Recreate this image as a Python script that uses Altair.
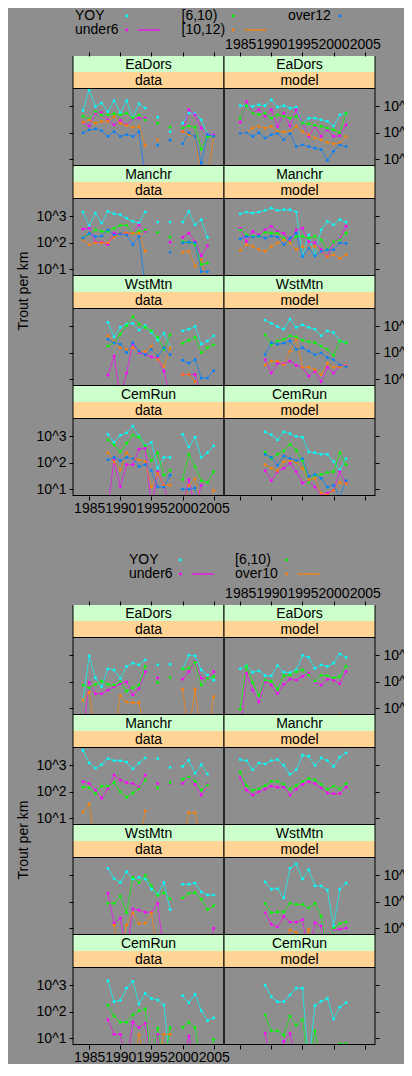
import altair as alt
import pandas as pd

N = None

# ---------------- data ----------------
YEARS_DATA = list(range(1984, 2006))    # observed series
YEARS_MODEL = list(range(1985, 2003))   # model series
YEAR_TICKS = [1985, 1990, 1995, 2000, 2005]
Y_TICKS = [10, 100, 1000]
SITES = ["EaDors", "Manchr", "WstMtn", "CemRun"]
KINDS = ["data", "model"]
Y_TITLE = "Trout per km"

SERIES_1 = ["YOY", "under6", "[6,10)", "[10,12)", "over12"]
COLORS_1 = ["#00ffff", "#ff00ff", "#00ff00", "#ff8000", "#0080ff"]
SERIES_2 = ["YOY", "under6", "[6,10)", "over10"]
COLORS_2 = ["#00ffff", "#ff00ff", "#00ff00", "#ff8000"]

# ---- first figure (5 size classes) ----
C1_EADORS_DATA = {
    "YOY":     [700, 4300, 1000, 1340, 640, 1640, 560, 1640, 360, 1260, 860, N, 390, N, 110, N, 230, 560, 530, 310, 85, 85],
    "under6":  [250, 180, 560, 590, 300, 200, 300, 200, 340, 360, 360, N, N, N, N, N, 110, 750, 480, 150, 85, 85],
    "[6,10)":  [420, 340, 640, 480, 480, 530, 480, 560, 360, 480, 310, N, 230, N, 165, N, 150, 180, 165, 23, 73, 73],
    "[10,12)": [250, 310, 230, 270, 270, 420, 230, 190, 160, 175, 33, N, 54, N, N, N, 110, 85, 73, 2, 2, 73],
    "over12":  [100, 130, 140, 120, 73, 110, 73, 85, 73, 110, 2, N, 34, N, 52, N, 38, 100, 73, 7, 85, 73],
}
C1_EADORS_MODEL = {
    "YOY":     [1060, 1060, 1000, 1160, 1060, 1800, 940, 1060, 860, 940, 230, 360, 360, 310, 270, 180, 480, 560],
    "under6":  [250, 1550, 560, 750, 420, 750, 175, 560, 180, 750, 230, 73, 175, 73, 130, 73, 77, 200],
    "[6,10)":  [360, 1060, 560, 480, 560, 360, 480, 420, 360, 420, 230, 220, 190, 175, 150, 130, 100, 560],
    "[10,12)": [95, 100, 150, 180, 150, 175, 110, 110, 110, 175, 110, 85, 63, 54, 43, 38, 41, 73],
    "over12":  [95, 100, 73, 100, 63, 85, 95, 54, 95, 30, 35, 30, 26, 23, 9, 20, 35, 30],
}
C1_MANCHR_DATA = {
    "YOY":     [1460, 440, 1340, 560, 1550, 1260, 1150, 860, 650, 560, 1460, N, 610, N, 610, N, 610, 1550, 480, 750, 160, N],
    "under6":  [330, 360, 105, 105, 85, 230, 220, 230, 230, 480, 270, N, N, N, 105, N, 160, 230, 110, 32, 77, N],
    "[6,10)":  [150, 220, 310, 270, 270, 360, 460, 460, 230, 270, 310, N, 250, N, 165, N, 110, 105, 85, 15, 17, N],
    "[10,12)": [130, 85, 100, 100, 100, 165, 230, 230, 230, 230, 47, N, N, N, 43, N, 43, 47, 13, 23, 2, N],
    "over12":  [150, 230, 170, 180, 310, 200, 220, 200, 85, 175, 2, N, N, N, 43, N, 100, 105, 100, 8, 8, N],
}
C1_MANCHR_MODEL = {
    "YOY":     [1260, 1460, 1340, 1460, 1700, 2070, 1700, 1790, 1790, 1460, 30, 200, 32, 310, 650, 480, 750, 610],
    "under6":  [360, 110, 270, 200, 310, 420, 270, 230, 110, 310, 360, 110, 100, 55, 30, 110, 140, 420],
    "[6,10)":  [310, 200, 175, 175, 250, 230, 230, 150, 100, 175, 175, 150, 175, 130, 55, 110, 130, 230],
    "[10,12)": [51, 85, 73, 55, 47, 73, 100, 130, 100, 55, 73, 63, 73, 47, 30, 35, 26, 35],
    "over12":  [140, 175, 165, 180, 150, 180, 165, 85, 150, 230, 30, 63, 32, 47, 55, 55, 100, 95],
}
C1_WSTMTN_DATA = {
    "YOY":     [N, N, N, N, 1420, 400, 920, 1230, 1300, 720, 1060, 590, 300, 540, 165, N, 680, 790, 1000, 210, 280, 440],
    "under6":  [N, N, N, N, 14, 75, 2, 17, 220, 100, 85, 70, 65, 20, 2, N, 15, 15, 15, 2, N, N],
    "[6,10)":  [N, N, N, N, 180, 240, 510, 1060, 2350, 1230, 920, 680, 380, 135, 480, N, 230, 300, 380, 100, 155, 200],
    "[10,12)": [N, N, N, N, 440, 265, 155, 135, 155, 110, 110, 180, 55, 30, 155, N, 15, 15, 8, N, N, N],
    "over12":  [N, N, N, N, 325, 240, 210, 100, 240, 115, 85, 135, 75, 155, 85, N, 52, 40, 55, 11, 11, 21],
}
C1_WSTMTN_MODEL = {
    "YOY":     [N, N, N, N, 1750, 1300, 980, 790, 1910, 920, 1160, 920, 790, 440, 680, 590, 280, 240],
    "under6":  [N, N, N, N, 55, 17, 40, 38, 48, 33, 28, 13, 20, 8, 28, 17, 33, 34],
    "[6,10)":  [N, N, N, N, 480, 200, 280, 325, 440, 400, 300, 265, 240, 180, 135, 80, 280, 240],
    "[10,12)": [N, N, N, N, 34, 48, 48, 35, 115, 325, 28, 28, 23, 15, 40, 28, 30, 33],
    "over12":  [N, N, N, N, 85, 240, 210, 230, 280, 135, 155, 115, 85, 100, 65, 55, 35, 30],
}
C1_CEMRUN_DATA = {
    "YOY":     [N, N, N, N, 1200, 600, 1100, 1350, 2480, 1030, 440, 600, 62, 160, 160, N, 1200, 400, 940, 160, 240, 440],
    "under6":  [N, N, N, N, 2, 130, 12, 85, 85, 330, 360, 2, 46, 14, 2, N, 2, 23, 2, 14, N, N],
    "[6,10)":  [N, N, N, N, 740, 480, 260, 550, 1100, 940, 440, 120, 240, 34, 53, N, 23, 210, 72, 21, 18, 46],
    "[10,12)": [N, N, N, N, 240, 110, 53, 240, 145, 130, 110, 12, 39, 14, 14, N, 2, 14, 25, 2, 2, 9],
    "over12":  [N, N, N, N, 130, 160, 120, 160, 145, 72, 85, 50, 12, 12, 34, N, 10, 10, 11, 2, N, N],
}
C1_CEMRUN_MODEL = {
    "YOY":     [N, N, N, N, 1480, 1160, 740, 1480, 1270, 1000, 940, 260, 240, 210, 210, 110, 53, 145],
    "under6":  [N, N, N, N, 50, 21, 46, 62, 97, 46, 17, 21, 12, 6, 7, 9, 46, 16],
    "[6,10)":  [N, N, N, N, 255, 145, 210, 280, 510, 300, 120, 18, 34, 36, 43, 46, 240, 85],
    "[10,12)": [N, N, N, N, 85, 62, 50, 110, 120, 105, 62, 23, 25, 7, 6, 9, 18, 16],
    "over12":  [N, N, N, N, 210, 160, 80, 180, 145, 120, 145, 30, 36, 26, 12, 14, 5, 21],
}

# ---- second figure (4 size classes) ----
C2_EADORS_DATA = {
    "YOY":    [20, 960, 140, 65, 310, 280, 135, 380, 510, 440, 680, N, 440, N, 460, N, 310, 1000, 960, 280, 180, 115],
    "under6": [1, 95, 35, 35, 48, 65, 85, 100, 32, 55, 240, N, 140, N, 140, N, 125, 240, 590, 135, 135, 240],
    "[6,10)": [75, 59, 79, 106, 79, 75, 100, 44, 59, 75, 380, N, 94, N, 142, N, 307, 325, 550, 75, 134, 155],
    "over10": [20, 40, 1, 1, 1, 1, 30, 17, 16, 16, 1, N, N, N, N, N, 52, 1, 52, 1, 1, 27],
}
C2_EADORS_MODEL = {
    "YOY":    [310, 410, 230, 260, 170, 170, 410, 230, 220, 280, 1000, 840, 320, 440, 380, 510, 1130, 840],
    "under6": [1, 210, 48, 17, 100, 75, 35, 80, 125, 115, 160, 210, 95, 75, 125, 115, 85, 240],
    "[6,10)": [9, 380, 95, 30, 115, 105, 52, 170, 180, 240, 280, 180, 105, 180, 170, 140, 160, 380],
    "over10": [1, 1, 1, 1, 1, 1, 1, 1, 1, 1, 1, 1, 1, 1, 1, 1, 5.6, 1],
}
C2_MANCHR_DATA = {
    "YOY":    [3700, 1230, 790, 1060, 1820, 1520, 1520, 1350, 740, 1230, 1930, N, 1820, N, 840, N, 910, 1570, 500, 1060, 470, N],
    "under6": [240, 205, 115, 57, 130, 430, 280, 220, 205, 150, 430, N, 205, N, 205, N, 205, 370, 190, 75, 190, N],
    "[6,10)": [150, 140, 85, 165, 165, 220, 100, 62, 90, 130, 280, N, 140, N, 220, N, 300, 370, 250, 115, 180, N],
    "over10": [17, 34, 1, 1, 1, 1, 1, 1, 1, 1, 19, N, N, N, N, N, 1, 16, 16, 1, 1, N],
}
C2_MANCHR_MODEL = {
    "YOY":    [1660, 1520, 680, 1230, 1130, 1520, 1660, 1000, 460, 680, 2450, 2240, 1000, 1930, 1520, 910, 2050, 3000],
    "under6": [340, 115, 75, 100, 125, 165, 150, 150, 75, 125, 190, 240, 205, 140, 90, 85, 85, 150],
    "[6,10)": [550, 175, 115, 130, 175, 250, 250, 190, 125, 175, 250, 320, 280, 190, 125, 165, 130, 205],
    "over10": [1, 1, 1, 1, 1, 1, 1, 1, 1, 1, 1, 1, 1, 1, 1, 1, 1, 1],
}
C2_WSTMTN_DATA = {
    "YOY":    [N, N, N, N, 1860, 770, 540, 1380, 720, 840, 720, 300, 190, 540, 50, N, 460, 460, 510, 235, 180, 180],
    "under6": [N, N, N, N, 210, 15, 24, 1, 54, 48, 40, 40, 87, 1, 1, N, 1, 1, 1, 1, 1, 10],
    "[6,10)": [N, N, N, N, 87, 87, 165, 38, 840, 540, 1000, 400, 175, 220, 130, N, 140, 210, 220, 125, 50, 72],
    "over10": [N, N, N, N, N, 13, 1, 13, 38, 15, 15, 38, 1, 1, 1, N, 1, 1, 1, 1, 1, 1],
}
C2_WSTMTN_MODEL = {
    "YOY":    [N, N, N, N, 570, 300, 316, 140, 1860, 2740, 720, 1650, 400, 400, 280, 12, 300, 510],
    "under6": [N, N, N, N, 38, 14, 11, 28, 17, 17, 21, 1, 16, 12, 1, 9, 9, 10],
    "[6,10)": [N, N, N, N, 87, 38, 41, 41, 87, 79, 79, 59, 87, 28, 1, 10, 15, 17],
    "over10": [N, N, N, N, 1, 1, 1, 1, 8.6, 6.8, 1, 9, 1, 1, 1, 1, 1, 1],
}
C2_CEMRUN_DATA = {
    "YOY":    [N, N, N, N, 1510, 240, 270, 790, 1430, 200, 500, 320, 280, 180, 1, N, 410, 220, 460, 110, 46, 58],
    "under6": [N, N, N, N, 50, 14, 14, 1, 40, 25, 37, 1, 14, 1, 1, N, 1, 12, 1, 1, 1, 1],
    "[6,10)": [N, N, N, N, 180, 68, 40, 40, 76, 110, 130, 1, 24, 1, 25, N, 25, 40, 25, 1, 1, 9],
    "over10": [N, N, N, N, 1, 1, 1, 1, 1, 14, 1, 1, 1, 14, 14, N, 1, 1, 1, 1, 1, 1],
}
C2_CEMRUN_MODEL = {
    "YOY":    [N, N, N, N, 1000, 370, 240, 240, 430, 790, 790, 1, 170, 250, 320, 53, 150, 220],
    "under6": [N, N, N, N, 15, 1, 1, 7.5, 15, 1, 1, 1, 1, 1, 1, 1, 1, 1],
    "[6,10)": [N, N, N, N, 76, 19, 19, 13, 68, 31, 50, 1, 19, 1, 1, 1, 6, 6],
    "over10": [N, N, N, N, 1, 1, 1, 1, 1, 1, 1, 1, 1, 1, 1, 1, 1, 1],
}

PANELS_1 = {
    "EaDors": (C1_EADORS_DATA, C1_EADORS_MODEL),
    "Manchr": (C1_MANCHR_DATA, C1_MANCHR_MODEL),
    "WstMtn": (C1_WSTMTN_DATA, C1_WSTMTN_MODEL),
    "CemRun": (C1_CEMRUN_DATA, C1_CEMRUN_MODEL),
}
PANELS_2 = {
    "EaDors": (C2_EADORS_DATA, C2_EADORS_MODEL),
    "Manchr": (C2_MANCHR_DATA, C2_MANCHR_MODEL),
    "WstMtn": (C2_WSTMTN_DATA, C2_WSTMTN_MODEL),
    "CemRun": (C2_CEMRUN_DATA, C2_CEMRUN_MODEL),
}

# ---------------- style / layout ----------------
FONT = "Liberation Sans"
FS = 14
BG = "#8e8e8e"
GREEN = "#ccffcc"
ORANGE = "#ffd494"
PW = 151          # panel width
SH = 16           # strip height
PH = 78           # plot height
LEG_H = 48        # legend band above each figure
SPACER = 61       # gap between the two figures
XDOM = [1982.4, 2006.65]
YDOM = [10 ** 0.74, 10 ** 3.70]
LABEL_EXPR = "'10^' + round(log(datum.value) / LN10)"
TITLE_DY = 15     # title centre below the top of the third-row strip


def panel_df(values, years):
    recs = []
    for s, vals in values.items():
        seg = 0
        for y, v in zip(years, vals):
            if v is None:
                seg += 1
                continue
            recs.append({"series": s, "seg": f"{s}-{seg}", "year": y, "value": v})
    return pd.DataFrame(recs)


def border_layers(h, horizontal):
    """Panel outline: vertical sides always, black top/bottom for plot regions."""
    one = pd.DataFrame({"f": [0]})
    out = [
        alt.Chart(one).mark_rule(color="black", strokeWidth=1).encode(
            x=alt.value(0), y=alt.value(0), y2=alt.value(h)),
        alt.Chart(one).mark_rule(color="black", strokeWidth=1).encode(
            x=alt.value(PW), y=alt.value(0), y2=alt.value(h)),
    ]
    if horizontal:
        out += [
            alt.Chart(one).mark_rule(color="black", strokeWidth=1).encode(
                x=alt.value(0), x2=alt.value(PW), y=alt.value(0.5)),
            alt.Chart(one).mark_rule(color="black", strokeWidth=1).encode(
                x=alt.value(0), x2=alt.value(PW), y=alt.value(h - 0.5)),
        ]
    return out


def legend_cell(series, colors, x0, colw, yrows):
    ldf = pd.DataFrame({"series": series, "idx": list(range(len(series)))})
    xs = alt.Scale(domain=[0, 1], range=[x0, x0 + colw], zero=False, nice=False)
    cs = alt.Scale(domain=series, range=colors)
    layers = []
    for r, yv in enumerate(yrows):
        base = alt.Chart(ldf).transform_calculate(
            col="floor(datum.idx / 2)", row="datum.idx % 2"
        ).transform_filter(f"datum.row == {r}")
        layers.append(base.mark_text(
            align="left", baseline="middle", font=FONT, fontSize=FS, color="black"
        ).encode(x=alt.X("col:Q", scale=xs, axis=None), y=alt.value(yv), text="series:N"))
        layers.append(base.transform_calculate(px="datum.col + 0.485").mark_point(
            filled=True, size=8, opacity=1
        ).encode(
            x=alt.X("px:Q", scale=xs, axis=None), y=alt.value(yv),
            color=alt.Color("series:N", scale=cs, legend=None),
        ))
        if r == 1:
            layers.append(base.transform_calculate(
                l0="datum.col + 0.59", l1="datum.col + 0.80"
            ).mark_rule(strokeWidth=1.2).encode(
                x=alt.X("l0:Q", scale=xs, axis=None), x2="l1:Q", y=alt.value(yv),
                color=alt.Color("series:N", scale=cs, legend=None),
            ))
    return alt.layer(*layers).properties(width=PW, height=LEG_H)


def blank(h):
    return alt.Chart(pd.DataFrame({"a": [0]})).mark_rect(
        fill="transparent", strokeWidth=0
    ).encode(
        x=alt.value(0), x2=alt.value(PW), y=alt.value(0), y2=alt.value(h)
    ).properties(width=PW, height=h)


def strip_chart(label, fill, with_title=False):
    sdf = pd.DataFrame({"label": [label]})
    bg = alt.Chart(sdf).mark_rect(fill=fill, strokeWidth=0).encode(
        x=alt.value(0), x2=alt.value(PW), y=alt.value(0), y2=alt.value(SH)
    )
    tx = alt.Chart(sdf).mark_text(
        font=FONT, fontSize=FS, color="black", baseline="middle", align="center"
    ).encode(x=alt.value(PW / 2), y=alt.value(SH / 2 + 0.5), text="label:N")
    layers = [bg, tx] + border_layers(SH, False)
    if with_title:
        layers.append(alt.Chart(pd.DataFrame({"t": [Y_TITLE]})).mark_text(
            angle=270, align="center", baseline="middle", font=FONT, fontSize=FS, color="black"
        ).encode(text="t:N", x=alt.value(-49.5), y=alt.value(TITLE_DY)))
    return alt.layer(*layers).properties(width=PW, height=SH)


def plot_chart(values, years, series, colors, row, col):
    df = panel_df(values, years)
    common = dict(values=YEAR_TICKS, format="d", title=None, tickSize=4,
                  labelPadding=1, labelFlush=False, labelOverlap=False)
    if row == 0:
        xaxis = alt.Axis(orient="top", offset=2 * SH, labels=(col == 1), **common)
    elif row == 3:
        xaxis = alt.Axis(orient="bottom", labels=(col == 0), **common)
    else:
        xaxis = None
    ylab = (col == 0 and row in (1, 3)) or (col == 1 and row in (0, 2))
    yaxis = alt.Axis(
        orient="left" if col == 0 else "right", values=Y_TICKS, labelExpr=LABEL_EXPR,
        labels=ylab, title=None, tickSize=4, labelPadding=3 if col == 0 else 4,
        labelOverlap=False, labelFlush=False,
    )
    base = alt.Chart(df).encode(
        x=alt.X("year:Q", scale=alt.Scale(domain=XDOM, nice=False, zero=False), axis=xaxis),
        y=alt.Y("value:Q", scale=alt.Scale(type="log", domain=YDOM, nice=False), axis=yaxis),
        color=alt.Color("series:N", scale=alt.Scale(domain=series, range=colors), legend=None),
    )
    lines = base.mark_line(strokeWidth=1, strokeOpacity=0.7, clip=True).encode(detail="seg:N")
    pts = base.mark_point(filled=True, size=8, opacity=1, clip=True)
    return alt.layer(lines, pts, *border_layers(PH, True)).properties(width=PW, height=PH)


FIGS = [
    (PANELS_1, SERIES_1, COLORS_1, (2, 106.5, (8, 22))),
    (PANELS_2, SERIES_2, COLORS_2, (56, 106, (3, 17))),
]

cells = []
for fi, (panels, series, colors, leg) in enumerate(FIGS):
    cells.append(legend_cell(series, colors, *leg))
    cells.append(blank(LEG_H))
    for r, site in enumerate(SITES):
        cells.append(strip_chart(site, GREEN, with_title=(r == 2)))
        cells.append(strip_chart(site, GREEN))
        cells.append(strip_chart(KINDS[0], ORANGE))
        cells.append(strip_chart(KINDS[1], ORANGE))
        d_vals, m_vals = panels[site]
        cells.append(plot_chart(d_vals, YEARS_DATA, series, colors, r, 0))
        cells.append(plot_chart(m_vals, YEARS_MODEL, series, colors, r, 1))
    if fi == 0:
        cells.append(blank(SPACER))
        cells.append(blank(SPACER))

chart = alt.concat(
    *cells, columns=2, spacing=0, bounds="flush", align="each"
).resolve_scale(
    x="independent", y="independent", color="independent"
).properties(
    background=BG, padding={"left": 8, "top": 0, "right": -9, "bottom": 0}
).configure_view(
    strokeWidth=0
).configure_axis(
    labelFont=FONT, labelFontSize=FS, labelColor="black", tickColor="black",
    tickWidth=1, domain=False, grid=False
)

chart.save("out.html", embed_options={"renderer": "svg", "actions": False})
